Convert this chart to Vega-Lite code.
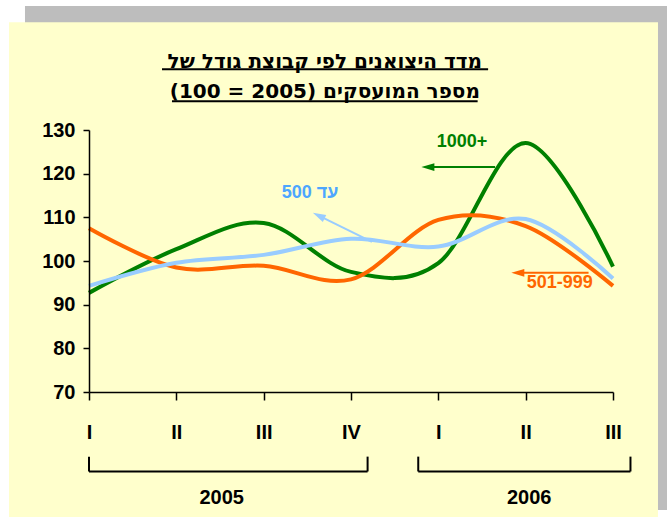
{
  "$schema": "https://vega.github.io/schema/vega-lite/v6.json",
  "width": 524,
  "height": 262,
  "autosize": {"type": "none"},
  "padding": {"left": 89, "top": 130, "right": 54, "bottom": 125},
  "background": "white",
  "config": {"view": {"stroke": null}, "font": "Liberation Sans, Arial, DejaVu Sans, sans-serif"},
  "datasets": {
    "frame": [
      {"part": "shadow", "q": -0.733, "q2": 6.619, "value": 158.4, "value2": 43.0},
      {"part": "panel", "q": -0.916, "q2": 6.515, "value": 154.7, "value2": 41.4}
    ],
    "series": [
      {"q": 0, "group": "1000+", "value": 92.7},
      {"q": 1, "group": "1000+", "value": 102.7},
      {"q": 2, "group": "1000+", "value": 108.7},
      {"q": 3, "group": "1000+", "value": 97.5},
      {"q": 4, "group": "1000+", "value": 99.5},
      {"q": 5, "group": "1000+", "value": 127.0},
      {"q": 6, "group": "1000+", "value": 98.7},
      {"q": 0, "group": "501-999", "value": 107.5},
      {"q": 1, "group": "501-999", "value": 98.5},
      {"q": 2, "group": "501-999", "value": 98.9},
      {"q": 3, "group": "501-999", "value": 95.8},
      {"q": 4, "group": "501-999", "value": 109.4},
      {"q": 5, "group": "501-999", "value": 108.0},
      {"q": 6, "group": "501-999", "value": 94.3},
      {"q": 0, "group": "עד 500", "value": 94.3},
      {"q": 1, "group": "עד 500", "value": 99.6},
      {"q": 2, "group": "עד 500", "value": 101.4},
      {"q": 3, "group": "עד 500", "value": 105.1},
      {"q": 4, "group": "עד 500", "value": 103.3},
      {"q": 5, "group": "עד 500", "value": 109.6},
      {"q": 6, "group": "עד 500", "value": 96.0}
    ],
    "arrows": [
      {"group": "1000+", "q": 4.65, "value": 121.5, "q2": 3.88, "value2": 121.5},
      {"group": "501-999", "q": 5.72, "value": 97.3, "q2": 4.91, "value2": 97.3},
      {"group": "עד 500", "q": 3.24, "value": 104.4, "q2": 2.63, "value2": 110.4}
    ],
    "heads": [
      {"group": "1000+", "q": 3.88, "value": 121.5},
      {"group": "501-999", "q": 4.91, "value": 97.3}
    ],
    "blueHead": [
      {"group": "עד 500", "q": 2.63, "value": 110.4}
    ],
    "notes": [
      {"group": "1000+", "q": 4.27, "value": 127.2, "label": "1000+"},
      {"group": "עד 500", "q": 2.53, "value": 115.6, "label": "500 עד"},
      {"group": "501-999", "q": 5.39, "value": 94.9, "label": "501-999"}
    ],
    "titles": [
      {"q": 2.70, "value": 145.6, "label": "מדד היצואנים לפי קבוצת גודל של"},
      {"q": 2.70, "value": 138.7, "label": "(100 = 2005) מספר המועסקים"}
    ],
    "years": [
      {"q": 1.52, "value": 45.8, "label": "2005"},
      {"q": 5.04, "value": 45.8, "label": "2006"}
    ],
    "blackRules": [
      {"q": 0.836, "q2": 4.57, "value": 143.9, "value2": 143.9},
      {"q": 0.95, "q2": 4.45, "value": 136.6, "value2": 136.6},
      {"q": 0, "q2": 3.19, "value": 51.8, "value2": 51.8},
      {"q": 0, "q2": 0, "value": 51.8, "value2": 55.2},
      {"q": 3.19, "q2": 3.19, "value": 51.8, "value2": 55.2},
      {"q": 3.77, "q2": 6.2, "value": 51.8, "value2": 51.8},
      {"q": 3.77, "q2": 3.77, "value": 51.8, "value2": 55.2},
      {"q": 6.2, "q2": 6.2, "value": 51.8, "value2": 55.2}
    ]
  },
  "resolve": {"scale": {"color": "independent"}},
  "layer": [
    {
      "data": {"name": "frame"},
      "mark": {"type": "rect", "opacity": 1},
      "encoding": {
        "x": {"field": "q", "type": "quantitative", "title": null, "scale": {"domain": [0, 6], "nice": false, "zero": false}},
        "x2": {"field": "q2"},
        "y": {"field": "value", "type": "quantitative", "title": null, "scale": {"domain": [70, 130], "nice": false, "zero": false}},
        "y2": {"field": "value2"},
        "color": {"field": "part", "type": "nominal", "legend": null,
          "scale": {"domain": ["shadow", "panel"], "range": ["#BDBDBD", "#FFFFCC"]}}
      }
    },
    {
      "data": {"name": "series"},
      "mark": {"type": "line", "interpolate": "cardinal", "strokeWidth": 4},
      "encoding": {
        "x": {"field": "q", "type": "quantitative", "title": null,
          "scale": {"domain": [0, 6], "nice": false, "zero": false},
          "axis": {"values": [0, 1, 2, 3, 4, 5, 6], "labelExpr": "['I','II','III','IV','I','II','III'][datum.value]",
            "grid": false, "zindex": 1, "domainColor": "black", "domainWidth": 1.5, "tickColor": "black", "tickWidth": 1.5, "tickSize": 8,
            "labelFontSize": 20, "labelFontWeight": "bold", "labelColor": "black", "labelPadding": 22, "labelBaseline": "top",
            "labelFlush": false, "labelOverlap": false}},
        "y": {"field": "value", "type": "quantitative", "title": null,
          "scale": {"domain": [70, 130], "nice": false, "zero": false},
          "axis": {"values": [70, 80, 90, 100, 110, 120, 130], "grid": false, "zindex": 1, "domainColor": "black", "domainWidth": 1.5,
            "tickColor": "black", "tickWidth": 1.5, "tickSize": 6, "labelFontSize": 20, "labelFontWeight": "bold",
            "labelColor": "black", "labelPadding": 8, "labelFlush": false, "labelOverlap": false}},
        "color": {"field": "group", "type": "nominal", "legend": null,
          "scale": {"domain": ["1000+", "501-999", "עד 500"], "range": ["#008000", "#FF6600", "#99CCFF"]}}
      }
    },
    {
      "data": {"name": "arrows"},
      "mark": {"type": "rule", "strokeWidth": 2},
      "encoding": {
        "x": {"field": "q", "type": "quantitative", "title": null, "scale": {"domain": [0, 6], "nice": false, "zero": false}},
        "x2": {"field": "q2"},
        "y": {"field": "value", "type": "quantitative", "title": null, "scale": {"domain": [70, 130], "nice": false, "zero": false}},
        "y2": {"field": "value2"},
        "color": {"field": "group", "type": "nominal", "legend": null,
          "scale": {"domain": ["1000+", "501-999", "עד 500"], "range": ["#008000", "#FF6600", "#99CCFF"]}}
      }
    },
    {
      "data": {"name": "heads"},
      "mark": {"type": "point", "filled": true, "opacity": 1, "shape": "M-1,0L1,-0.6L1,0.6Z", "size": 169},
      "encoding": {
        "x": {"field": "q", "type": "quantitative", "title": null, "scale": {"domain": [0, 6], "nice": false, "zero": false}},
        "y": {"field": "value", "type": "quantitative", "title": null, "scale": {"domain": [70, 130], "nice": false, "zero": false}},
        "color": {"field": "group", "type": "nominal", "legend": null,
          "scale": {"domain": ["1000+", "501-999", "עד 500"], "range": ["#008000", "#FF6600", "#99CCFF"]}}
      }
    },
    {
      "data": {"name": "blueHead"},
      "mark": {"type": "point", "filled": true, "opacity": 1, "shape": "M-1,0L1,-0.6L1,0.6Z", "size": 169, "angle": 26},
      "encoding": {
        "x": {"field": "q", "type": "quantitative", "title": null, "scale": {"domain": [0, 6], "nice": false, "zero": false}},
        "y": {"field": "value", "type": "quantitative", "title": null, "scale": {"domain": [70, 130], "nice": false, "zero": false}},
        "color": {"field": "group", "type": "nominal", "legend": null,
          "scale": {"domain": ["1000+", "501-999", "עד 500"], "range": ["#008000", "#FF6600", "#99CCFF"]}}
      }
    },
    {
      "data": {"name": "notes"},
      "mark": {"type": "text", "fontSize": 18, "fontWeight": "bold", "align": "center", "baseline": "middle"},
      "encoding": {
        "x": {"field": "q", "type": "quantitative", "title": null, "scale": {"domain": [0, 6], "nice": false, "zero": false}},
        "y": {"field": "value", "type": "quantitative", "title": null, "scale": {"domain": [70, 130], "nice": false, "zero": false}},
        "text": {"field": "label"},
        "color": {"field": "group", "type": "nominal", "legend": null,
          "scale": {"domain": ["1000+", "501-999", "עד 500"], "range": ["#008000", "#FF6600", "#4DA6FF"]}}
      }
    },
    {
      "data": {"name": "titles"},
      "mark": {"type": "text", "font": "DejaVu Sans", "fontSize": 20, "fontWeight": "bold", "align": "center", "baseline": "middle", "color": "black"},
      "encoding": {
        "x": {"field": "q", "type": "quantitative", "title": null, "scale": {"domain": [0, 6], "nice": false, "zero": false}},
        "y": {"field": "value", "type": "quantitative", "title": null, "scale": {"domain": [70, 130], "nice": false, "zero": false}},
        "text": {"field": "label"}
      }
    },
    {
      "data": {"name": "years"},
      "mark": {"type": "text", "fontSize": 20, "fontWeight": "bold", "align": "center", "baseline": "middle", "color": "black"},
      "encoding": {
        "x": {"field": "q", "type": "quantitative", "title": null, "scale": {"domain": [0, 6], "nice": false, "zero": false}},
        "y": {"field": "value", "type": "quantitative", "title": null, "scale": {"domain": [70, 130], "nice": false, "zero": false}},
        "text": {"field": "label"}
      }
    },
    {
      "data": {"name": "blackRules"},
      "mark": {"type": "rule", "strokeWidth": 2, "color": "black"},
      "encoding": {
        "x": {"field": "q", "type": "quantitative", "title": null, "scale": {"domain": [0, 6], "nice": false, "zero": false}},
        "x2": {"field": "q2"},
        "y": {"field": "value", "type": "quantitative", "title": null, "scale": {"domain": [70, 130], "nice": false, "zero": false}},
        "y2": {"field": "value2"}
      }
    }
  ]
}
